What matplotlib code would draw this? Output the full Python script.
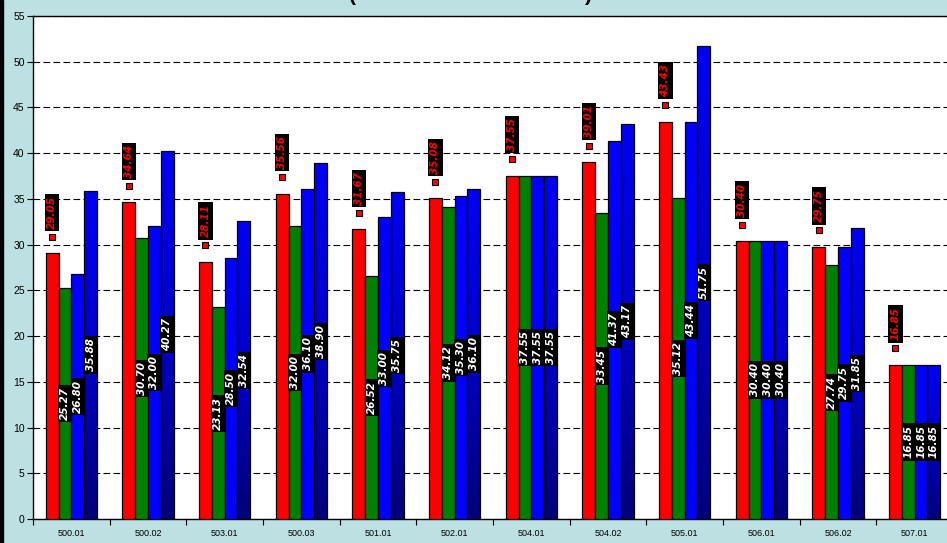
import numpy as np
import matplotlib
matplotlib.use('Agg')
import matplotlib.pyplot as plt
from matplotlib.colors import LinearSegmentedColormap
from matplotlib.patches import Rectangle

categories = ['500.01', '500.02', '503.01', '500.03', '501.01', '502.01',
              '504.01', '504.02', '505.01', '506.01', '506.02', '507.01']
red_vals = [29.05, 34.64, 28.11, 35.56, 31.67, 35.08, 37.55, 39.01, 43.43, 30.40, 29.75, 16.85]
green_vals = [25.27, 30.70, 23.13, 32.00, 26.52, 34.12, 37.55, 33.45, 35.12, 30.40, 27.74, 16.85]
blue_vals = [26.80, 32.00, 28.50, 36.10, 33.00, 35.30, 37.55, 41.37, 43.44, 30.40, 29.75, 16.85]
navy_vals = [35.88, 40.27, 32.54, 38.90, 35.75, 36.10, 37.55, 43.17, 51.75, 30.40, 31.85, 16.85]

bg = '#bde0e3'
plt.rcParams['font.family'] = ['Liberation Sans', 'DejaVu Sans']

fig = plt.figure(figsize=(9.47, 5.43), dpi=100, facecolor=bg)
ax = fig.add_axes([33/947, 24/543, 920/947, 503/543])
ax.set_facecolor('white')

# dark strip on the left edge
fig.patches.append(Rectangle((0, 0), 2.5/947, 1, transform=fig.transFigure,
                             color='black', zorder=10))

# clipped title, only the bottom of it is visible
fig.text(352/947, 1 - 1/543, '(', fontsize=15, fontweight='bold', ha='center', va='baseline')
fig.text(588/947, 1 - 1/543, ')', fontsize=15, fontweight='bold', ha='center', va='baseline')

x = np.arange(len(categories))
w = 0.167
offs = [-1.5, -0.5, 0.5, 1.5]

kw = dict(width=w, edgecolor='black', linewidth=0.9, zorder=3)
ax.bar(x + offs[0]*w, red_vals, color='#ff0000', **kw)
ax.bar(x + offs[1]*w, green_vals, color='#008000', **kw)
ax.bar(x + offs[2]*w, blue_vals, color='#0000ff', **kw)
navy_bars = ax.bar(x + offs[3]*w, navy_vals, color='none', **kw)

# gradient fill for the last series
navy_cmap = LinearSegmentedColormap.from_list('navy', ['#00007a', '#0000c8', '#0000f5'])
grad = np.linspace(0, 1, 256).reshape(-1, 1)
for b in navy_bars:
    x0, y0 = b.get_x(), b.get_y()
    bw, bh = b.get_width(), b.get_height()
    im = ax.imshow(grad, extent=[x0, x0 + bw, y0, y0 + bh], cmap=navy_cmap,
                   aspect='auto', origin='lower', zorder=2.9)
    im.set_clip_path(b)

# value labels in the middle of the bars
lab = dict(rotation=90, ha='center', va='center', color='white', fontsize=7.5,
           fontweight='bold', fontstyle='italic', family='DejaVu Sans',
           bbox=dict(boxstyle='square,pad=0.2', fc='black', ec='none'), zorder=5)
for k, vals in [(1, green_vals), (2, blue_vals), (3, navy_vals)]:
    for i, v in enumerate(vals):
        ax.text(x[i] + offs[k]*w, v/2, f'{v:.2f}', **lab)

# red markers with labels above the red bars
mark_y = np.array(red_vals) + 1.8
ax.plot(x + offs[0]*w, mark_y, 's', color='#ff0000', mec='black', mew=0.8, ms=5,
        ls='none', zorder=4)
for i, v in enumerate(red_vals):
    ax.annotate(f'{v:.2f}', (x[i] + offs[0]*w, mark_y[i]), xytext=(0, 8),
                textcoords='offset pixels', rotation=90, ha='center', va='bottom',
                color='#ff0000', fontsize=7.5, fontweight='bold', fontstyle='italic',
                family='DejaVu Sans',
                bbox=dict(boxstyle='square,pad=0.2', fc='black', ec='none'), zorder=5)

ax.set_xlim(-0.5, len(categories) - 0.5)
ax.set_ylim(0, 55)
ax.set_yticks(np.arange(0, 56, 5))
ax.yaxis.grid(True, color='black', linestyle=(0, (6, 3)), linewidth=0.8)
ax.set_axisbelow(True)

ax.set_xticks(x)
ax.set_xticklabels(categories, fontsize=6.5)
ax.set_xticks(np.arange(-0.5, len(categories), 1), minor=True)
ax.tick_params(axis='x', which='major', length=0, pad=7)
ax.tick_params(axis='x', which='minor', length=4, width=0.8, direction='out')
ax.tick_params(axis='y', length=4, width=0.8, labelsize=7.5, pad=2)

for s in ['left', 'bottom', 'top']:
    ax.spines[s].set_color('black')
    ax.spines[s].set_linewidth(1.0)
ax.spines['right'].set_visible(False)

plt.savefig('out.png', dpi=100, facecolor=bg)
